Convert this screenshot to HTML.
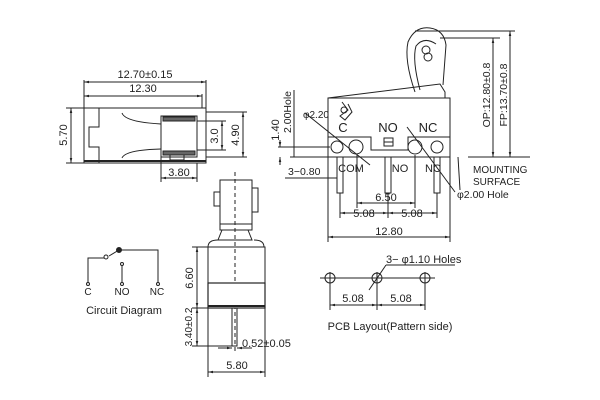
<!DOCTYPE html>
<html><head><style>body{margin:0;background:#fff}svg{display:block}text{font-family:"Liberation Sans",sans-serif;fill:#222}</style></head>
<body>
<svg width="600" height="400" viewBox="0 0 600 400" xmlns="http://www.w3.org/2000/svg">
<defs><marker id="a" viewBox="0 0 10 10" refX="10" refY="5" markerWidth="5" markerHeight="5" orient="auto-start-reverse"><path d="M0,2.5 L10,5 L0,7.5z" fill="#222"/></marker></defs>
<g stroke="#222" stroke-width="1" fill="none">
<!-- top-left view -->
<rect x="84" y="108" width="122" height="55"/>
<line x1="84" y1="161" x2="206" y2="161" stroke-width="2"/>
<path d="M99 108V127H89V147H99V163"/>
<path d="M122 113Q125 122 161 124M122 158Q125 150 161 149"/>
<rect x="161" y="116" width="36" height="41"/>
<rect x="163" y="117" width="32" height="4" fill="#666"/>
<rect x="163" y="151" width="32" height="4" fill="#666"/>
<rect x="170" y="155" width="14" height="5"/>
<line x1="84" y1="82" x2="206" y2="82" marker-start="url(#a)" marker-end="url(#a)"/>
<line x1="84" y1="96" x2="202" y2="96" marker-start="url(#a)" marker-end="url(#a)"/>
<line x1="84" y1="80" x2="84" y2="108"/><line x1="206" y1="80" x2="206" y2="108"/><line x1="202" y1="94" x2="202" y2="108"/>
<line x1="71" y1="108" x2="71" y2="163" marker-start="url(#a)" marker-end="url(#a)"/>
<line x1="66" y1="108" x2="84" y2="108"/><line x1="66" y1="163" x2="84" y2="163"/>
<line x1="222" y1="121" x2="222" y2="150" marker-start="url(#a)" marker-end="url(#a)"/>
<line x1="197" y1="121" x2="226" y2="121"/><line x1="197" y1="150" x2="226" y2="150"/>
<line x1="243" y1="112" x2="243" y2="157" marker-start="url(#a)" marker-end="url(#a)"/>
<line x1="206" y1="112" x2="247" y2="112"/><line x1="206" y1="157" x2="247" y2="157"/>
<line x1="161" y1="157" x2="161" y2="182"/><line x1="197" y1="163" x2="197" y2="182"/>
<line x1="161" y1="178" x2="197" y2="178" marker-start="url(#a)" marker-end="url(#a)"/>
<!-- bottom view -->
<line x1="235" y1="172" x2="235" y2="352" stroke-dasharray="4,3"/>
<rect x="220" y="180" width="32" height="50"/>
<rect x="214" y="192" width="6" height="14"/><rect x="252" y="188" width="6" height="24"/>
<path d="M220 224H252M222 230L218 240H252L248 230"/>
<path d="M208 247Q208 240 218 240M264 247Q264 240 254 240"/>
<rect x="208" y="247" width="57" height="61"/>
<rect x="208" y="283" width="57" height="25" fill="#fff" stroke-width="1.2"/>
<line x1="208" y1="306" x2="265" y2="306" stroke-width="2"/>
<rect x="232" y="308" width="5" height="38"/>
<line x1="197" y1="247" x2="197" y2="308" marker-start="url(#a)" marker-end="url(#a)"/>
<line x1="197" y1="308" x2="197" y2="346" marker-start="url(#a)" marker-end="url(#a)"/>
<line x1="192" y1="247" x2="208" y2="247"/><line x1="192" y1="308" x2="208" y2="308"/><line x1="192" y1="346" x2="232" y2="346"/>
<line x1="218" y1="348" x2="232" y2="348" marker-end="url(#a)"/><line x1="252" y1="348" x2="237" y2="348" marker-end="url(#a)"/>
<line x1="208" y1="308" x2="208" y2="377"/><line x1="265" y1="308" x2="265" y2="377"/>
<line x1="208" y1="372" x2="265" y2="372" marker-start="url(#a)" marker-end="url(#a)"/>
<!-- circuit -->
<path d="M88 283V258H104M109 256L119 250H158V283M122 283V264"/>
<circle cx="106" cy="257" r="2" fill="#fff"/><circle cx="119" cy="250" r="2.5" fill="#222"/>
<circle cx="88" cy="284" r="1.5" fill="#fff"/><circle cx="122" cy="284" r="1.5" fill="#fff"/><circle cx="122" cy="264" r="1.5" fill="#fff"/><circle cx="158" cy="284" r="1.5" fill="#fff"/>
<!-- right view -->
<rect x="328" y="98" width="122" height="59"/>
<path d="M328 98L440 84L445 92V98"/>
<path d="M415 92Q404 60 408 42Q415 26 430 28Q444 30 446 45L443 85"/>
<path d="M420 90Q412 60 416 46Q424 36 436 44"/>
<circle cx="426" cy="50" r="4"/><circle cx="428" cy="57" r="4"/>
<path d="M342 102L348 110L340 116L345 120L352 112L348 104"/>
<circle cx="344" cy="110" r="3"/>
<path d="M328 137H371V150H408V137H450"/>
<rect x="384" y="138" width="9" height="8"/><line x1="384" y1="142" x2="393" y2="142"/>
<circle cx="337" cy="147" r="6"/><circle cx="356" cy="147" r="7"/><circle cx="415" cy="147" r="7"/><circle cx="437" cy="147" r="6"/>
<rect x="337" y="157" width="6" height="36"/><rect x="385" y="157" width="6" height="36"/><rect x="434" y="157" width="6" height="36"/>
<line x1="305" y1="113" x2="370" y2="165"/><line x1="407" y1="127" x2="455" y2="192"/>
<line x1="458" y1="157" x2="460" y2="190"/>
<line x1="468" y1="157" x2="530" y2="157"/>
<line x1="415" y1="31" x2="515" y2="31"/><line x1="440" y1="38" x2="500" y2="38"/>
<line x1="493" y1="38" x2="493" y2="157" marker-start="url(#a)" marker-end="url(#a)"/>
<line x1="510" y1="31" x2="510" y2="157" marker-start="url(#a)" marker-end="url(#a)"/>
<line x1="278" y1="147" x2="330" y2="147"/><line x1="290" y1="157" x2="330" y2="157"/>
<line x1="280" y1="140" x2="280" y2="147" marker-end="url(#a)"/><line x1="280" y1="165" x2="280" y2="157" marker-end="url(#a)"/>
<line x1="294" y1="90" x2="294" y2="157"/>
<line x1="285" y1="178" x2="337" y2="178"/>
<line x1="357" y1="155" x2="357" y2="208"/><line x1="415" y1="155" x2="415" y2="208"/>
<line x1="357" y1="203" x2="415" y2="203" marker-start="url(#a)" marker-end="url(#a)"/>
<line x1="340" y1="193" x2="340" y2="218"/><line x1="388" y1="193" x2="388" y2="218"/><line x1="437" y1="193" x2="437" y2="218"/>
<line x1="340" y1="213" x2="388" y2="213" marker-start="url(#a)" marker-end="url(#a)"/>
<line x1="388" y1="213" x2="437" y2="213" marker-start="url(#a)" marker-end="url(#a)"/>
<line x1="328" y1="157" x2="328" y2="242"/><line x1="450" y1="157" x2="450" y2="242"/>
<line x1="328" y1="237" x2="450" y2="237" marker-start="url(#a)" marker-end="url(#a)"/>
<!-- pcb -->
<line x1="320" y1="278" x2="435" y2="278"/>
<circle cx="330" cy="278" r="5"/><circle cx="377" cy="278" r="5"/><circle cx="425" cy="278" r="5"/>
<line x1="330" y1="272" x2="330" y2="310"/><line x1="377" y1="272" x2="377" y2="310"/><line x1="425" y1="272" x2="425" y2="310"/>
<line x1="330" y1="305" x2="377" y2="305" marker-start="url(#a)" marker-end="url(#a)"/>
<line x1="377" y1="305" x2="425" y2="305" marker-start="url(#a)" marker-end="url(#a)"/>
<line x1="369" y1="290" x2="386" y2="265"/><line x1="386" y1="265" x2="455" y2="265"/>
</g>
<g font-size="11">
<text x="145" y="78" text-anchor="middle">12.70±0.15</text>
<text x="143" y="92" text-anchor="middle">12.30</text>
<text x="179" y="176" text-anchor="middle">3.80</text>
<text transform="translate(67,135) rotate(-90)" text-anchor="middle">5.70</text>
<text transform="translate(218,136) rotate(-90)" text-anchor="middle">3.0</text>
<text transform="translate(239,135) rotate(-90)" text-anchor="middle">4.90</text>
<text transform="translate(193,278) rotate(-90)" text-anchor="middle">6.60</text>
<text transform="translate(192,327) rotate(-90)" text-anchor="middle" font-size="10">3.40±0.2</text>
<text x="242" y="347">0.52±0.05</text>
<text x="237" y="369" text-anchor="middle">5.80</text>
<text x="88" y="295" text-anchor="middle" font-size="10">C</text>
<text x="122" y="295" text-anchor="middle" font-size="10">NO</text>
<text x="157" y="295" text-anchor="middle" font-size="10">NC</text>
<text x="124" y="314" text-anchor="middle">Circuit Diagram</text>
<text x="343" y="132" font-size="13" text-anchor="middle">C</text>
<text x="388" y="132" font-size="13" text-anchor="middle">NO</text>
<text x="428" y="132" font-size="13" text-anchor="middle">NC</text>
<text x="351" y="172" text-anchor="middle">COM</text>
<text x="400" y="172" text-anchor="middle">NO</text>
<text x="433" y="172" text-anchor="middle">NC</text>
<text x="473" y="173" font-size="10">MOUNTING</text>
<text x="473" y="185" font-size="10">SURFACE</text>
<text x="457" y="198" font-size="10.5">φ2.00 Hole</text>
<text x="303" y="118" font-size="10">φ2.20</text>
<text x="288" y="175" font-size="10.5">3−0.80</text>
<text x="386" y="201" text-anchor="middle">6.50</text>
<text x="364" y="217" text-anchor="middle">5.08</text>
<text x="412" y="217" text-anchor="middle">5.08</text>
<text x="389" y="235" text-anchor="middle">12.80</text>
<text transform="translate(279,130) rotate(-90)" text-anchor="middle">1.40</text>
<text transform="translate(291,112) rotate(-90)" text-anchor="middle" font-size="10.5">2.00Hole</text>
<text transform="translate(490,95) rotate(-90)" text-anchor="middle" font-size="10.5">OP:12.80±0.8</text>
<text transform="translate(507,95) rotate(-90)" text-anchor="middle" font-size="10.5">FP:13.70±0.8</text>
<text x="386" y="263">3− φ1.10 Holes</text>
<text x="353" y="302" text-anchor="middle">5.08</text>
<text x="401" y="302" text-anchor="middle">5.08</text>
<text x="390" y="330" text-anchor="middle">PCB Layout(Pattern side)</text>
</g>
</svg>
</body></html>
